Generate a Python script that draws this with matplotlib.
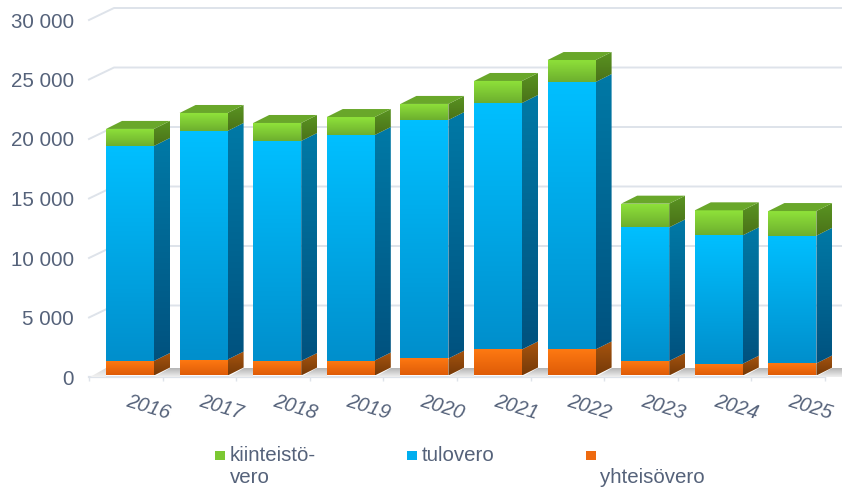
import matplotlib
matplotlib.use("Agg")
import matplotlib.pyplot as plt
import numpy as np
from matplotlib.colors import LinearSegmentedColormap
from matplotlib.patches import Polygon, Rectangle

# Data
years = ["2016", "2017", "2018", "2019", "2020", "2021", "2022", "2023", "2024", "2025"]
yhteisovero = [1220, 1340, 1220, 1260, 1430, 2190, 2190, 1220, 990, 1020]
tulovero = [18070, 19210, 18490, 18950, 20040, 20710, 22470, 11230, 10790, 10730]
kiinteistovero = [1430, 1510, 1510, 1510, 1350, 1850, 1850, 1990, 2100, 2070]
y_ticks = [0, 5000, 10000, 15000, 20000, 25000, 30000]

text_color = "#55627A"
grid_color = "#DEE3EA"
W, H = 842, 490

plt.rcParams["font.family"] = ["Liberation Sans", "DejaVu Sans"]

fig = plt.figure(figsize=(W / 100, H / 100), dpi=100)
ax = fig.add_axes([89 / W, 1 - 377 / H, 736 / W, 357 / H])
ax.set_xlim(0, 10)
ax.set_ylim(0, 30000)
for s in ax.spines.values():
    s.set_visible(False)

# pixels to data units
PX = 10 / 736
PY = 30000 / 357
BAR_LEFT = 17 * PX
BAR_W = 48 * PX
BAR_LIFT = 1.5 * PY
SIDE_X = 16 * PX
SIDE_Y = 8 * PY


def gradient_poly(points, top, bottom, z):
    """Fill a polygon with a vertical gradient."""
    pts = np.array(points)
    poly = Polygon(pts, closed=True, fc="none", ec="none", zorder=z, clip_on=False)
    ax.add_patch(poly)
    cmap = LinearSegmentedColormap.from_list("g", [bottom, top])
    im = ax.imshow(np.linspace(0, 1, 64).reshape(-1, 1), cmap=cmap, origin="lower", aspect="auto",
                   extent=(pts[:, 0].min(), pts[:, 0].max(), pts[:, 1].min(), pts[:, 1].max()),
                   zorder=z, interpolation="bilinear")
    im.set_clip_path(poly)
    im.set_clip_box(fig.bbox)


def draw_segment(x, y0, y1, colors, z):
    front_top, front_bot, side_top, side_bot = colors
    x1 = x + BAR_W
    gradient_poly([(x, y0), (x1, y0), (x1, y1), (x, y1)], front_top, front_bot, z + 1)
    gradient_poly([(x1, y0), (x1 + SIDE_X, y0 + SIDE_Y), (x1 + SIDE_X, y1 + SIDE_Y), (x1, y1)],
                  side_top, side_bot, z)


# back wall and floor
for t in y_ticks[1:]:
    ax.plot([0, 25 * PX, 10.24], [t, t + 12 * PY, t + 12 * PY], color=grid_color, lw=1.4,
            clip_on=False, zorder=1)
ax.plot([0, 10], [0, 0], color=grid_color, lw=1.6, clip_on=False, zorder=1)

orange = ("#FF7A12", "#DF5C08", "#A8550F", "#763A08")
blue = ("#00BFFF", "#008FCC", "#0079A6", "#00527F")
green = ("#8FE23A", "#6DAF2E", "#5A9422", "#4A7218")

# floor shadow in front of the first bar
gradient_poly([(1 * PX, 0), (BAR_LEFT, 0), (BAR_LEFT, 9 * PY)], "#D6D6D6", "#F2F2F2", 2)

for i in range(len(years)):
    x = i + BAR_LEFT
    # floor shadow up to the next bar
    gradient_poly([(x + BAR_W, 0), (x + 1, 0), (x + 1, 9 * PY), (x + BAR_W + SIDE_X, 9 * PY)],
                  "#B4B4B4", "#F0F0F0", 2)
    y0 = BAR_LIFT
    z = 3 + i * 5
    y1 = y0 + yhteisovero[i]
    draw_segment(x, y0, y1, orange, z)
    y2 = y1 + tulovero[i]
    draw_segment(x, y1, y2, blue, z + 1)
    y3 = y2 + kiinteistovero[i]
    draw_segment(x, y2, y3, green, z + 2)
    ax.add_patch(Polygon([(x, y3), (x + BAR_W, y3), (x + BAR_W + SIDE_X, y3 + SIDE_Y), (x + SIDE_X, y3 + SIDE_Y)],
                         closed=True, fc="#69A72A", ec="none", zorder=z + 4, clip_on=False))

ax.set_xlim(0, 10)
ax.set_ylim(0, 30000)

ax.set_yticks(y_ticks)
ax.set_yticklabels([f"{t:,}".replace(",", " ") for t in y_ticks], fontsize=14.8, color=text_color)
ax.tick_params(axis="y", length=0, pad=11)
ax.set_xticks(range(11))
ax.set_xticklabels([])
ax.tick_params(axis="x", length=3, width=1, color=grid_color)

for i, year in enumerate(years):
    ax.annotate(year, (i + 0.5, 0), xytext=(22, -30), textcoords="offset pixels", ha="center", va="center",
                rotation=-17, fontsize=14.5, color=text_color, style="italic", annotation_clip=False)

# legend, placed by hand like the original
legend_items = [(215, "#7CC832", "kiinteistö-\nvero", 230), (406.5, "#00AEEF", "tulovero", 421.5),
                (585.5, "#EE6A10", "\nyhteisövero", 600)]
for mx, col, label, tx in legend_items:
    fig.add_artist(Rectangle((mx / W, 1 - 460 / H), 10 / W, 9.5 / H, transform=fig.transFigure, fc=col, ec="none"))
    fig.text(tx / W, 1 - 446 / H, label, fontsize=14.8, color=text_color, va="top", ha="left", linespacing=1.22)

fig.savefig("out.png", dpi=100)
